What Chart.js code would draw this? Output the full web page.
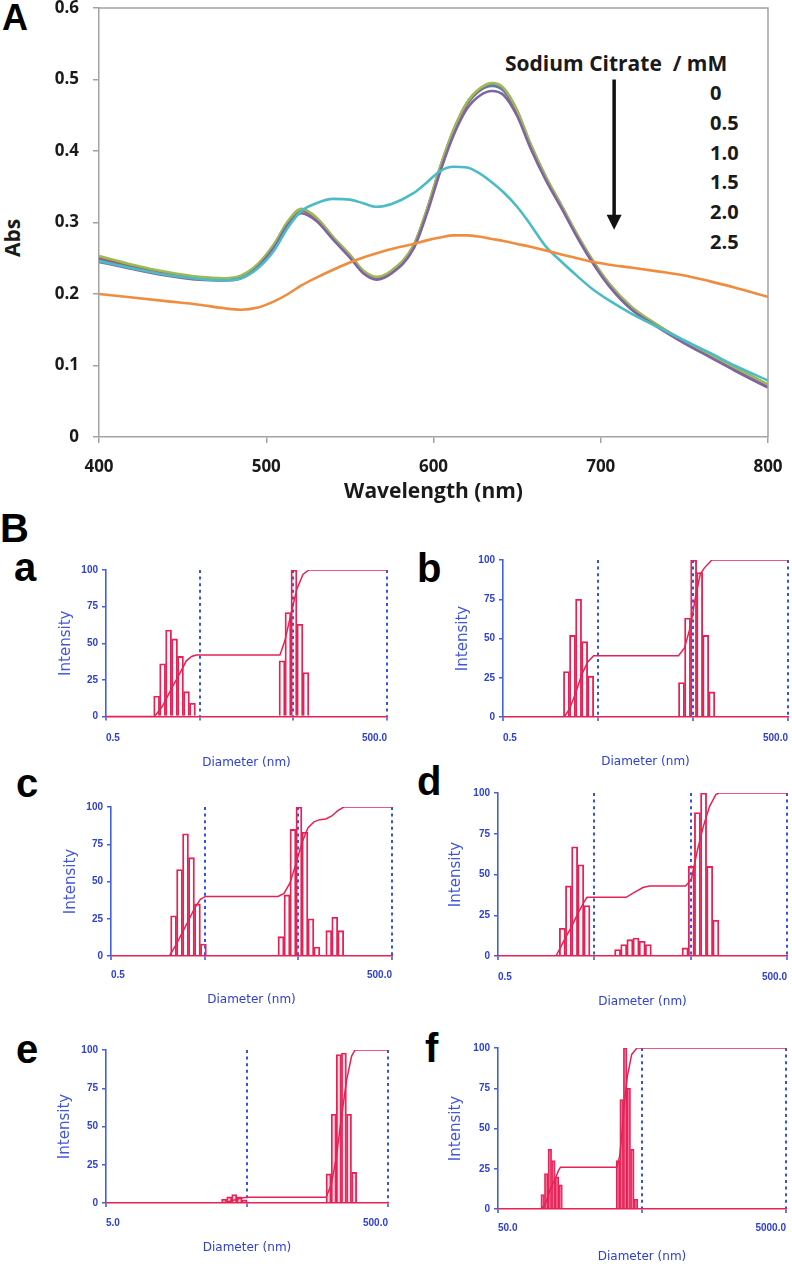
<!DOCTYPE html>
<html>
<head>
<meta charset="utf-8">
<script src="https://cdn.jsdelivr.net/npm/chart.js@4.4.0/dist/chart.umd.min.js"></script>
<style>
html, body { margin: 0; padding: 0; background: #fff; }
#page { position: relative; width: 792px; height: 1268px; overflow: hidden; }
canvas { position: absolute; }
.letter { position: absolute; font-family: "Liberation Sans", Arial, sans-serif; font-weight: bold; line-height: 1; color: #000; }
.legend { position: absolute; font-family: "Open Sans", sans-serif; font-weight: 700; color: #1a1a1a; white-space: pre; line-height: 1; transform: translateY(-50%); }
.abs { position: absolute; font-family: "Open Sans", sans-serif; font-weight: 700; color: #1a1a1a; font-size: 21px; line-height: 1; transform: translate(-50%, -50%) rotate(-90deg); }
</style>
</head>
<body>
<div id="page">
  <div class="letter" style="left:2px;top:0px;font-size:36px">A</div>
  <div class="letter" style="left:0px;top:508px;font-size:40px">B</div>
  <div class="letter" style="left:14px;top:547px;font-size:40px">a</div>
  <div class="letter" style="left:417px;top:548px;font-size:40px">b</div>
  <div class="letter" style="left:16px;top:763px;font-size:40px">c</div>
  <div class="letter" style="left:417px;top:761px;font-size:40px">d</div>
  <div class="letter" style="left:16px;top:1029px;font-size:40px">e</div>
  <div class="letter" style="left:425px;top:1028px;font-size:40px">f</div>
  <div class="abs" style="left:12px;top:238px">Abs</div>
  <div class="legend" style="left:505px;top:63px;font-size:21px">Sodium Citrate  / mM</div>
  <div id="citrateList"></div>
</div>
<script>
// ---------- Panel A : UV-vis spectra ----------
const wavelength = [400, 420, 440, 460, 475, 485, 495, 505, 513, 521, 530, 540, 550, 558, 566, 575, 588, 596, 604, 612,
                    620, 628, 635, 642, 650, 658, 667, 677, 686, 695, 705, 718, 733, 750, 765, 780, 800];
const abs0  = [.249,.238,.228,.222,.220,.224,.240,.269,.300,.317,.305,.278,.253,.231,.222,.231,.266,.316,.376,.428,
               .465,.485,.491,.484,.454,.408,.363,.320,.281,.246,.213,.181,.157,.133,.114,.096,.072];
const abs05 = [.251,.240,.230,.223,.221,.225,.241,.270,.301,.318,.306,.279,.254,.232,.223,.232,.267,.317,.377,.429,
               .467,.487,.494,.487,.456,.409,.364,.321,.282,.247,.214,.182,.158,.134,.115,.097,.073];
const abs10 = [.253,.241,.231,.224,.222,.226,.242,.271,.302,.319,.307,.280,.255,.233,.224,.233,.268,.318,.378,.430,
               .468,.488,.495,.488,.457,.410,.365,.322,.283,.248,.215,.183,.158,.134,.115,.097,.073];
const abs15 = [.245,.235,.226,.220,.219,.222,.238,.266,.297,.313,.302,.276,.251,.229,.220,.229,.263,.312,.371,.422,
               .459,.478,.484,.478,.449,.404,.360,.318,.279,.244,.211,.179,.155,.131,.112,.093,.069];
const abs20 = [.246,.236,.227,.221,.219,.222,.236,.262,.293,.316,.327,.333,.332,.327,.322,.326,.341,.356,.372,.378,
               .377,.368,.356,.342,.322,.297,.267,.244,.225,.207,.191,.173,.155,.135,.118,.100,.079];
const abs25 = [.200,.195,.190,.185,.180,.178,.181,.190,.200,.212,.223,.234,.244,.251,.257,.263,.270,.275,.279,.282,
               .282,.280,.277,.274,.270,.266,.261,.255,.250,.245,.241,.237,.232,.226,.218,.209,.196];
const citrateLabels = ['0', '0.5', '1.0', '1.5', '2.0', '2.5'];
const seriesColors = ['#4F81BD', '#C0504D', '#9BBB59', '#8064A2', '#4BBCC6', '#F08C3E'];
const wavelengthTicks = [400, 500, 600, 700, 800];
const absTicks = [0, 0.1, 0.2, 0.3, 0.4, 0.5, 0.6];
// arrow: wavelength, from Abs, to Abs
const arrowWave = 708, arrowFrom = 0.50, arrowTo = 0.29;

// ---------- Panel B : DLS size distributions ----------
const aSizes     = [1.736, 2.01, 2.328, 2.696, 3.122, 3.615, 4.187, 37.84, 43.82, 50.75, 58.77, 68.06];
const aIntensity = [14, 36, 59, 53, 41, 17, 9, 38, 71, 100, 63, 30];
const aCumSizes  = [0.5, 1.65, 2.0, 2.5, 3.1, 3.6, 4.1, 4.6, 36, 40.7, 47.2, 54.6, 63.3, 73.3, 500];
const aCumPct    = [0, 0, 7, 19, 30, 38, 41, 42, 42, 52, 70, 87, 97, 100, 100];

const bSizes     = [2.328, 2.696, 3.122, 3.615, 4.187, 37.84, 43.82, 50.75, 58.77, 68.06, 78.82];
const bIntensity = [29, 52, 75, 48, 26, 22, 63, 100, 92, 52, 16];
const bCumSizes  = [0.5, 2.2, 2.5, 2.9, 3.37, 3.9, 4.5, 35.2, 40.7, 47.2, 53.3, 59.7, 66, 79, 500];
const bCumPct    = [0, 0, 5, 15, 27, 35, 39, 39, 44, 58, 77, 91, 95, 100, 100];

const cSizes     = [2.328, 2.696, 3.122, 3.615, 4.187, 4.849, 32.67, 37.84, 43.82, 50.75, 58.77, 68.06, 78.82, 105.7, 122.4, 141.8];
const cIntensity = [27, 58, 82, 66, 35, 8, 13, 41, 85, 100, 83, 25, 6, 17, 26, 17];
const cCumSizes  = [0.5, 2.1, 2.5, 2.9, 3.37, 3.9, 4.5, 5.1, 30.4, 35.2, 40.7, 47.2, 54.6, 63.3, 73.3, 84.9, 98.3, 113.9, 131.9, 152.7, 500];
const cCumPct    = [0, 0, 8, 16, 24, 32, 38, 40, 40, 42, 49, 62, 76, 86, 90, 91.5, 92, 94, 97.5, 100, 100];

const dSizes     = [2.328, 2.696, 3.122, 3.615, 4.187, 8.721, 10.1, 11.7, 13.54, 15.69, 18.17, 43.82, 50.75, 58.77, 68.06, 78.82, 91.28];
const dIntensity = [17, 43, 67, 56, 31, 4, 7, 10, 11, 9, 7, 5, 55, 88, 100, 55, 22];
const dCumSizes  = [0.5, 2.0, 2.5, 2.9, 3.37, 3.9, 4.2, 10.7, 13, 16, 18.6, 44.2, 50.75, 58.77, 68.06, 78.82, 91.28, 98, 500];
const dCumPct    = [0, 0, 11, 18, 26, 33, 36, 36, 39, 42, 43, 43, 47, 65, 80, 92, 99, 100, 100];

const eSizes     = [34.4, 37.4, 40.6, 44.2, 48.0, 189.5, 206.0, 223.9, 243.4, 264.6, 287.6];
const eIntensity = [2.5, 4, 5.5, 4, 2, 19, 58, 97, 98, 58, 20];
const eCumSizes  = [5, 33, 36, 39, 42.4, 46, 50, 182, 198, 215, 233, 254, 276, 292, 500];
const eCumPct    = [0, 0, 0.6, 1.5, 2.5, 3.3, 3.7, 3.7, 12, 30, 55, 80, 96, 100, 100];

const fSizes     = [102.1, 108.1, 114.5, 121.3, 128.4, 136.0, 340.6, 360.7, 382.0, 404.5, 428.4, 453.7];
const fIntensity = [9, 22, 37, 30, 20, 15, 30, 68, 100, 75, 37, 6];
const fCumSizes  = [50, 99, 106, 115, 125, 131.6, 136, 335, 350, 362, 376, 395, 424, 461, 5000];
const fCumPct    = [0, 0, 2.5, 12, 19, 24, 26, 26, 33, 46, 64, 82, 96, 100, 100];

const decadesSmall = [0.5, 5, 50, 500];
const decadesE = [5, 50, 500];
const decadesF = [50, 500, 5000];
const intensityTicks = [0, 25, 50, 75, 100];

const RED = '#e62255';
const BLUE = '#2f40cf';
const DASH_BLUE = '#3553df';
const AXIS_BLUE = '#4060e6';
const GREY = '#a3a3a3';

const page = document.getElementById('page');
function makeCanvas(left, top, w, h) {
  const c = document.createElement('canvas');
  c.width = w; c.height = h;
  c.style.left = left + 'px'; c.style.top = top + 'px';
  c.style.width = w + 'px'; c.style.height = h + 'px';
  page.appendChild(c);
  return c;
}

// legend list for the citrate concentrations
const legendTops = [93, 123, 153, 182, 212, 242];
citrateLabels.forEach((t, i) => {
  const d = document.createElement('div');
  d.className = 'legend';
  d.style.left = '710px';
  d.style.top = legendTops[i] + 'px';
  d.style.fontSize = '20px';
  d.textContent = t;
  page.appendChild(d);
});

// frame on top/right of the plot area
const plotFrame = {
  id: 'plotFrame',
  afterDraw(chart) {
    const {ctx, chartArea: a} = chart;
    ctx.save();
    ctx.strokeStyle = GREY;
    ctx.lineWidth = 1.5;
    ctx.beginPath();
    ctx.moveTo(a.left, a.top);
    ctx.lineTo(a.right, a.top);
    ctx.lineTo(a.right, a.bottom);
    ctx.stroke();
    ctx.restore();
  }
};

const citrateArrow = {
  id: 'citrateArrow',
  afterDraw(chart) {
    const {ctx, scales: {x, y}} = chart;
    const px = x.getPixelForValue(arrowWave);
    const y1 = y.getPixelForValue(arrowFrom);
    const y2 = y.getPixelForValue(arrowTo);
    ctx.save();
    ctx.strokeStyle = '#111';
    ctx.fillStyle = '#111';
    ctx.lineWidth = 3.5;
    ctx.beginPath();
    ctx.moveTo(px, y1);
    ctx.lineTo(px, y2 - 12);
    ctx.stroke();
    ctx.beginPath();
    ctx.moveTo(px - 7.5, y2 - 15);
    ctx.lineTo(px + 7.5, y2 - 15);
    ctx.lineTo(px, y2);
    ctx.closePath();
    ctx.fill();
    ctx.restore();
  }
};

const tickFontA = {family: '"Open Sans", sans-serif', weight: 'bold', size: 17};
const absSeries = [abs0, abs05, abs10, abs15, abs20, abs25];

new Chart(makeCanvas(0, 0, 792, 510), {
  type: 'line',
  data: {
    datasets: absSeries.map((vals, i) => ({
      label: citrateLabels[i],
      data: wavelength.map((w, j) => ({x: w, y: vals[j]})),
      borderColor: seriesColors[i],
      borderWidth: 2.6,
      pointRadius: 0,
      fill: false,
      cubicInterpolationMode: 'monotone',
      order: absSeries.length - 1 - i
    }))
  },
  options: {
    responsive: false,
    animation: false,
    devicePixelRatio: 1,
    layout: {padding: {top: 8, right: 24, left: 0, bottom: 0}},
    plugins: {legend: {display: false}, tooltip: {enabled: false}},
    scales: {
      x: {
        type: 'linear', min: 400, max: 800,
        afterBuildTicks: s => { s.ticks = wavelengthTicks.map(v => ({value: v})); },
        ticks: {padding: 14, color: '#1a1a1a', font: tickFontA, maxRotation: 0, autoSkip: false},
        grid: {drawOnChartArea: false, drawTicks: true, tickLength: 6, color: GREY, lineWidth: 1.5},
        border: {color: GREY, width: 1.5},
        title: {display: true, text: 'Wavelength (nm)', color: '#1a1a1a',
                font: {family: '"Open Sans", sans-serif', weight: 'bold', size: 21}, padding: {top: 0, bottom: 5}},
        afterFit: s => { s.height = 73; s.paddingLeft = 0; s.paddingRight = 0; }
      },
      y: {
        min: 0, max: 0.6,
        afterBuildTicks: s => { s.ticks = absTicks.map(v => ({value: v})); },
        ticks: {padding: 14, color: '#1a1a1a', font: tickFontA, autoSkip: false,
                callback: v => (v === 0 ? '0' : v.toFixed(1))},
        grid: {drawOnChartArea: false, drawTicks: true, tickLength: 6, color: GREY, lineWidth: 1.5},
        border: {color: GREY, width: 1.5},
        afterFit: s => { s.width = 99; s.paddingTop = 0; s.paddingBottom = 0; }
      }
    }
  },
  plugins: [plotFrame, citrateArrow]
});

// ---------- the six DLS panels ----------
const panels = [
  {sizes: aSizes, inten: aIntensity, cumX: aCumSizes, cumY: aCumPct, decades: decadesSmall, ends: ['0.5', '500.0'],
   col: 0, l: 106, t: 570, r: 387, b: 716.5, tickY: 738, titleY: 763, intX: 66, fill: 'rgba(255,255,255,0)'},
  {sizes: bSizes, inten: bIntensity, cumX: bCumSizes, cumY: bCumPct, decades: decadesSmall, ends: ['0.5', '500.0'],
   col: 396, l: 503, t: 560, r: 788, b: 717, tickY: 738, titleY: 762, intX: 463, fill: 'rgba(255,255,255,0)'},
  {sizes: cSizes, inten: cIntensity, cumX: cCumSizes, cumY: cCumPct, decades: decadesSmall, ends: ['0.5', '500.0'],
   col: 0, l: 111, t: 807, r: 392, b: 956, tickY: 975, titleY: 1000, intX: 71, fill: 'rgba(255,255,255,0)'},
  {sizes: dSizes, inten: dIntensity, cumX: dCumSizes, cumY: dCumPct, decades: decadesSmall, ends: ['0.5', '500.0'],
   col: 396, l: 498, t: 793, r: 787, b: 956, tickY: 977, titleY: 1002, intX: 456, fill: 'rgba(255,255,255,0)'},
  {sizes: eSizes, inten: eIntensity, cumX: eCumSizes, cumY: eCumPct, decades: decadesE, ends: ['5.0', '500.0'],
   col: 0, l: 106, t: 1050, r: 388, b: 1203, tickY: 1223, titleY: 1248, intX: 65, fill: 'rgba(240,110,150,0.22)'},
  {sizes: fSizes, inten: fIntensity, cumX: fCumSizes, cumY: fCumPct, decades: decadesF, ends: ['50.0', '5000.0'],
   col: 396, l: 498, t: 1048, r: 786, b: 1209, tickY: 1228, titleY: 1257, intX: 456, fill: 'rgba(240,85,135,0.55)'}
];

const tickFontB = {family: '"Liberation Sans Narrow", "Liberation Sans", sans-serif', weight: 'bold', size: 10};

panels.forEach(p => {
  const top = p.t - 14;
  const w = p.r + 5 - p.col;
  const h = p.titleY + 12 - top;
  const xHeight = p.titleY + 12 - p.b;
  new Chart(makeCanvas(p.col, top, w, h), {
    type: 'bar',
    data: {
      datasets: [
        {type: 'line', data: p.cumX.map((x, i) => ({x: x, y: p.cumY[i]})),
         borderColor: RED, borderWidth: 1.5, pointRadius: 0, tension: 0, order: 0},
        {type: 'bar', data: p.sizes.map((x, i) => ({x: x, y: p.inten[i]})),
         backgroundColor: p.fill, borderColor: RED, borderWidth: 1.2, borderSkipped: 'start',
         barPercentage: 1, categoryPercentage: 1, order: 1}
      ]
    },
    options: {
      responsive: false,
      animation: false,
      devicePixelRatio: 1,
      layout: {padding: {top: 14, right: 5, left: 0, bottom: 0}},
      plugins: {legend: {display: false}, tooltip: {enabled: false}},
      scales: {
        x: {
          type: 'logarithmic', min: p.decades[0], max: p.decades[p.decades.length - 1], offset: false,
          afterBuildTicks: s => { s.ticks = p.decades.map(v => ({value: v})); },
          ticks: {autoSkip: false, maxRotation: 0, align: 'inner', padding: p.tickY - p.b - 10,
                  color: BLUE, font: tickFontB,
                  callback: (v, i, ticks) => (i === 0 ? p.ends[0] : (i === ticks.length - 1 ? p.ends[1] : ''))},
          grid: {offset: false, drawOnChartArea: true, drawTicks: true, tickLength: 4,
                 color: c => (c.index === 0 ? 'rgba(0,0,0,0)' : DASH_BLUE), lineWidth: 2,
                 tickColor: DASH_BLUE, tickWidth: 1.5},
          border: {color: RED, width: 1.6, dash: [3, 3.6]},
          title: {display: true, text: 'Diameter (nm)', color: BLUE,
                  font: {family: '"DejaVu Sans", sans-serif', size: 12}, padding: {top: 0, bottom: 4.8}},
          afterFit: s => { s.height = xHeight; s.paddingLeft = 0; s.paddingRight = 0; }
        },
        y: {
          min: 0, max: 100,
          afterBuildTicks: s => { s.ticks = intensityTicks.map(v => ({value: v})); },
          ticks: {padding: 4, color: BLUE, font: tickFontB, autoSkip: false},
          grid: {drawOnChartArea: false, drawTicks: true, tickLength: 4, color: AXIS_BLUE, lineWidth: 1.5},
          border: {color: AXIS_BLUE, width: 1.6},
          title: {display: true, text: 'Intensity', color: '#4256dc',
                  font: {family: '"DejaVu Sans", sans-serif', size: 15}, padding: {top: p.intX - p.col - 9, bottom: 0}},
          afterFit: s => { s.width = p.l - p.col; s.paddingTop = 0; s.paddingBottom = 0; }
        }
      }
    }
  });
});
</script>
</body>
</html>
